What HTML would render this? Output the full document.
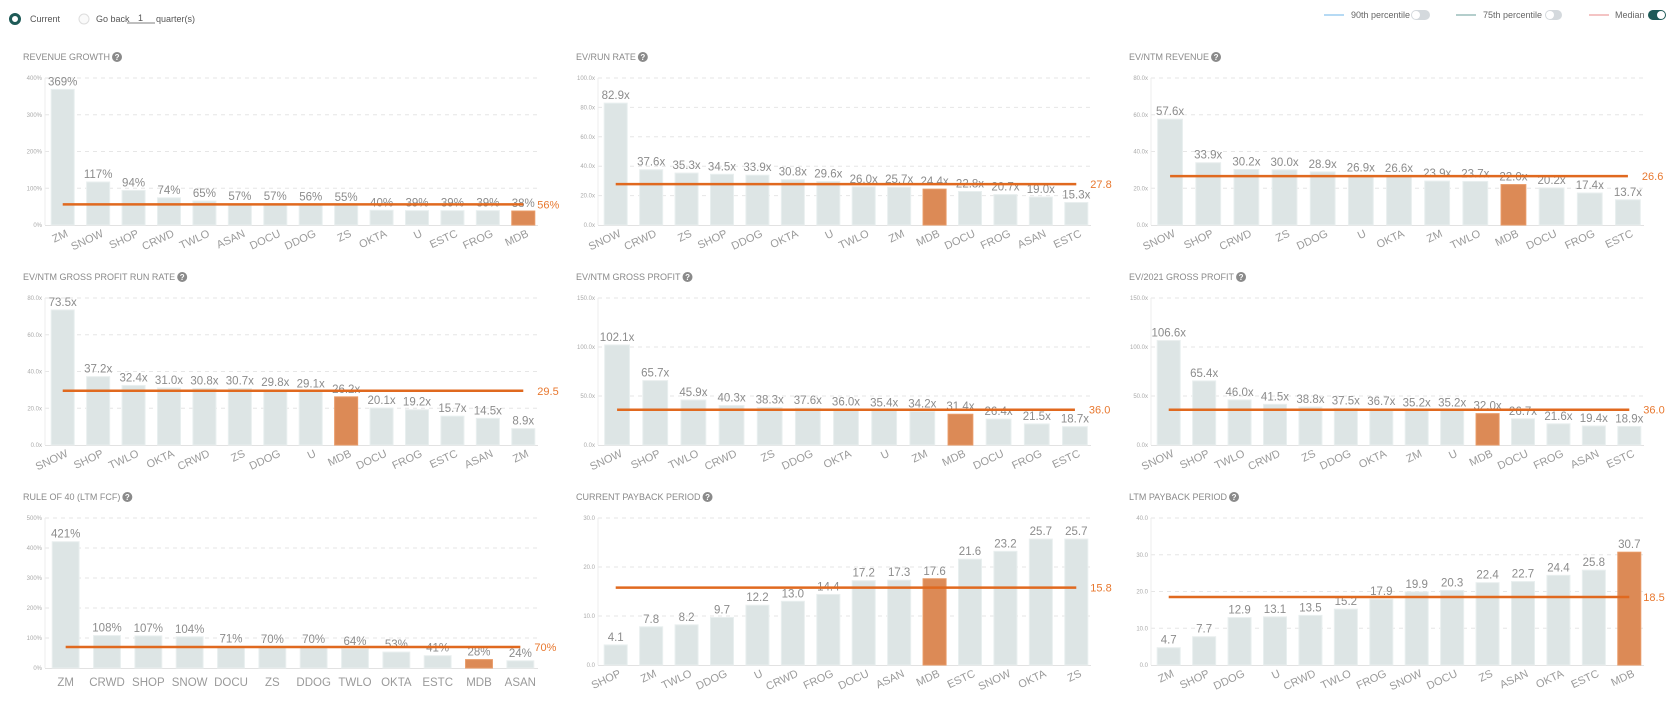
<!DOCTYPE html>
<html><head><meta charset="utf-8">
<style>
html,body{margin:0;padding:0;background:#fff;width:1671px;height:708px;overflow:hidden;font-family:"Liberation Sans",sans-serif;}
svg{display:block}
</style></head>
<body>
<svg id="root" width="1671" height="708" viewBox="0 0 1671 708" xmlns="http://www.w3.org/2000/svg">
  <g font-family="Liberation Sans, sans-serif" font-size="9" fill="#555">
    <g>
      <circle cx="15" cy="19" r="4.5" fill="#fff" stroke="#1e5a57" stroke-width="3"/>
      <text x="30" y="22">Current</text>
    </g>
    <g>
      <circle cx="84" cy="19" r="5" fill="#fafafa" stroke="#ddd" stroke-width="1"/>
      <text x="96" y="22">Go back</text>
    </g>
    <g>
      <line x1="127" y1="23" x2="155" y2="23" stroke="#555" stroke-width="0.8"/>
      <text x="138" y="21">1</text>
    </g>
    <text x="156" y="22">quarter(s)</text>
  </g>
  <g font-family="Liberation Sans, sans-serif" font-size="9" fill="#666">
    <g>
      <line x1="1324" y1="15" x2="1344" y2="15" stroke="#6cb4e8" stroke-width="1"/>
      <text x="1351" y="18">90th percentile</text>
    </g>
    <g>
      <rect x="1411" y="10" width="19" height="10" rx="5" fill="#d4d9dd"/>
      <circle cx="1416" cy="15" r="4" fill="#fff"/>
    </g>
    <g>
      <line x1="1456" y1="15" x2="1476" y2="15" stroke="#6a9c9a" stroke-width="1"/>
      <text x="1483" y="18">75th percentile</text>
    </g>
    <g>
      <rect x="1545" y="10" width="17" height="10" rx="5" fill="#d4d9dd"/>
      <circle cx="1550" cy="15" r="4" fill="#fff"/>
    </g>
    <g>
      <line x1="1589" y1="15" x2="1609" y2="15" stroke="#e88a8a" stroke-width="1"/>
      <text x="1615" y="18">Median</text>
    </g>
    <g>
      <rect x="1648" y="10" width="18" height="10" rx="5" fill="#1e5a57"/>
      <circle cx="1661" cy="15" r="4" fill="#fff"/>
    </g>
  </g>
  <g id="charts"></g>
</svg>
<script>
// ---- data ----
const revGrowthCats = ["ZM","SNOW","SHOP","CRWD","TWLO","ASAN","DOCU","DDOG","ZS","OKTA","U","ESTC","FROG","MDB"];
const revGrowthVals = [369,117,94,74,65,57,57,56,55,40,39,39,39,38];
const revGrowthTicks = [0,100,200,300,400];
const revGrowthMedian = 56;

const evRunRateCats = ["SNOW","CRWD","ZS","SHOP","DDOG","OKTA","U","TWLO","ZM","MDB","DOCU","FROG","ASAN","ESTC"];
const evRunRateVals = [82.9,37.6,35.3,34.5,33.9,30.8,29.6,26.0,25.7,24.4,22.8,20.7,19.0,15.3];
const evRunRateTicks = [0,20,40,60,80,100];
const evRunRateMedian = 27.8;

const evNtmRevCats = ["SNOW","SHOP","CRWD","ZS","DDOG","U","OKTA","ZM","TWLO","MDB","DOCU","FROG","ESTC"];
const evNtmRevVals = [57.6,33.9,30.2,30.0,28.9,26.9,26.6,23.9,23.7,22.0,20.2,17.4,13.7];
const evNtmRevTicks = [0,20,40,60,80];
const evNtmRevMedian = 26.6;

const evGpRunCats = ["SNOW","SHOP","TWLO","OKTA","CRWD","ZS","DDOG","U","MDB","DOCU","FROG","ESTC","ASAN","ZM"];
const evGpRunVals = [73.5,37.2,32.4,31.0,30.8,30.7,29.8,29.1,26.2,20.1,19.2,15.7,14.5,8.9];
const evGpRunTicks = [0,20,40,60,80];
const evGpRunMedian = 29.5;

const evNtmGpCats = ["SNOW","SHOP","TWLO","CRWD","ZS","DDOG","OKTA","U","ZM","MDB","DOCU","FROG","ESTC"];
const evNtmGpVals = [102.1,65.7,45.9,40.3,38.3,37.6,36.0,35.4,34.2,31.4,26.4,21.5,18.7];
const evNtmGpTicks = [0,50,100,150];
const evNtmGpMedian = 36.0;

const ev2021GpCats = ["SNOW","SHOP","TWLO","CRWD","ZS","DDOG","OKTA","ZM","U","MDB","DOCU","FROG","ASAN","ESTC"];
const ev2021GpVals = [106.6,65.4,46.0,41.5,38.8,37.5,36.7,35.2,35.2,32.0,26.7,21.6,19.4,18.9];
const ev2021GpTicks = [0,50,100,150];
const ev2021GpMedian = 36.0;

const rule40Cats = ["ZM","CRWD","SHOP","SNOW","DOCU","ZS","DDOG","TWLO","OKTA","ESTC","MDB","ASAN"];
const rule40Vals = [421,108,107,104,71,70,70,64,53,41,28,24];
const rule40Ticks = [0,100,200,300,400,500];
const rule40Median = 70;

const curPaybackCats = ["SHOP","ZM","TWLO","DDOG","U","CRWD","FROG","DOCU","ASAN","MDB","ESTC","SNOW","OKTA","ZS"];
const curPaybackVals = [4.1,7.8,8.2,9.7,12.2,13.0,14.4,17.2,17.3,17.6,21.6,23.2,25.7,25.7];
const curPaybackTicks = [0,10,20,30];
const curPaybackMedian = 15.8;

const ltmPaybackCats = ["ZM","SHOP","DDOG","U","CRWD","TWLO","FROG","SNOW","DOCU","ZS","ASAN","OKTA","ESTC","MDB"];
const ltmPaybackVals = [4.7,7.7,12.9,13.1,13.5,15.2,17.9,19.9,20.3,22.4,22.7,24.4,25.8,30.7];
const ltmPaybackTicks = [0,10,20,30,40];
const ltmPaybackMedian = 18.5;

const highlightCat = "MDB";

// ---- layout ----
const NS = "http://www.w3.org/2000/svg";
const COLS = [45, 598, 1151];
const ROWS = [0, 220, 440];
const PW = 496;

const panels = [
  {title:"REVENUE GROWTH", cats:revGrowthCats, vals:revGrowthVals, ticks:revGrowthTicks, med:revGrowthMedian, fmt:"pct", c:0, r:0, rot:true},
  {title:"EV/RUN RATE", cats:evRunRateCats, vals:evRunRateVals, ticks:evRunRateTicks, med:evRunRateMedian, fmt:"x", c:1, r:0, rot:true},
  {title:"EV/NTM REVENUE", cats:evNtmRevCats, vals:evNtmRevVals, ticks:evNtmRevTicks, med:evNtmRevMedian, fmt:"x", c:2, r:0, rot:true},
  {title:"EV/NTM GROSS PROFIT RUN RATE", cats:evGpRunCats, vals:evGpRunVals, ticks:evGpRunTicks, med:evGpRunMedian, fmt:"x", c:0, r:1, rot:true},
  {title:"EV/NTM GROSS PROFIT", cats:evNtmGpCats, vals:evNtmGpVals, ticks:evNtmGpTicks, med:evNtmGpMedian, fmt:"x", c:1, r:1, rot:true},
  {title:"EV/2021 GROSS PROFIT", cats:ev2021GpCats, vals:ev2021GpVals, ticks:ev2021GpTicks, med:ev2021GpMedian, fmt:"x", c:2, r:1, rot:true},
  {title:"RULE OF 40 (LTM FCF)", cats:rule40Cats, vals:rule40Vals, ticks:rule40Ticks, med:rule40Median, fmt:"pct", c:0, r:2, rot:false},
  {title:"CURRENT PAYBACK PERIOD", cats:curPaybackCats, vals:curPaybackVals, ticks:curPaybackTicks, med:curPaybackMedian, fmt:"n", c:1, r:2, rot:true},
  {title:"LTM PAYBACK PERIOD", cats:ltmPaybackCats, vals:ltmPaybackVals, ticks:ltmPaybackTicks, med:ltmPaybackMedian, fmt:"n", c:2, r:2, rot:true}
];

function mk(tag, attrs, parent){
  const e = document.createElementNS(NS, tag);
  for (const k in attrs) e.setAttribute(k, attrs[k]);
  parent.appendChild(e);
  return e;
}
function slug(s){return s.toLowerCase().replace(/[^a-z0-9]+/g,'-').replace(/^-|-$/g,'');}
function fmtVal(v,f){ if(f==="pct") return Math.round(v)+"%"; if(f==="x") return v.toFixed(1)+"x"; return v.toFixed(1);}
function fmtTick(v,f){ if(f==="pct") return v+"%"; if(f==="x") return v.toFixed(1)+"x"; return v.toFixed(1);}

const root = document.getElementById('charts');
panels.forEach(p=>{
  const left = COLS[p.c];
  const top = 78 + ROWS[p.r];
  const bottom = (p.rot ? 225 : 228) + ROWS[p.r] + (p.r===2 && p.rot ? 0 : 0);
  const maxV = p.ticks[p.ticks.length-1];
  const yScale = v => bottom - (v/maxV)*(bottom-top);
  const n = p.cats.length;
  const band = PW / n;
  const bw = band * 0.65;
  const xCenter = i => left + band*(i+0.5);
  const name = slug(p.title);

  const g = mk('g', {}, root);
  
  

  const t = mk('text', {x:left-22, y:top-18, 'font-size':'9', fill:'#8a8a8a', 'font-family':'Liberation Sans, sans-serif'}, g);
  t.textContent = p.title;
  
  
  const tw = t.getComputedTextLength ? t.getComputedTextLength() : p.title.length*6;
  const hg = mk('g', {}, g);
  
  
  mk('circle', {cx:left-22+tw+7, cy:top-21, r:5, fill:'#8a8a8a'}, hg);
  const q = mk('text', {x:left-22+tw+7, y:top-18, 'font-size':'8', 'font-weight':'bold', fill:'#fff', 'text-anchor':'middle'}, hg);
  q.textContent = '?';

  // grid + ticks
  p.ticks.forEach(tv=>{
    const y = yScale(tv);
    if (tv>0){
      const gl = mk('line', {x1:left, x2:left+PW-3, y1:y, y2:y, stroke:'#e6e6e6', 'stroke-width':1, 'stroke-dasharray':'4,4'}, g);
      
      
    }
    const tl = mk('text', {x:left-3, y:y+2, 'font-size':'6', fill:'#aaa', 'text-anchor':'end'}, g);
    tl.textContent = fmtTick(tv, p.fmt);
    
    
  });
  const ax = mk('line', {x1:left, x2:left, y1:top, y2:bottom, stroke:'#ececec', 'stroke-width':1}, g);
  
  
  const bl = mk('line', {x1:left, x2:left+PW-3, y1:bottom+0.5, y2:bottom+0.5, stroke:'#e2e2e2', 'stroke-width':1}, g);
  
  

  // bars
  p.cats.forEach((c,i)=>{
    const v = p.vals[i];
    const y = yScale(v);
    const cx = xCenter(i);
    const hl = c===highlightCat;
    const b = mk('rect', {x:cx-bw/2, y:y, width:bw, height:bottom-y, fill: hl?'#dc8a56':'#dde5e5', stroke: hl?'#e99a66':'#e9efef', 'stroke-width':1}, g);
    
    
    const vl = mk('text', {x:cx, y:y-4, 'font-size':'11.5', fill:'#8c8c8c', 'text-anchor':'middle'}, g);
    vl.textContent = fmtVal(v, p.fmt);
    
    
    let xl;
    if (p.rot){
      xl = mk('text', {x:cx+6, y:bottom+11, 'font-size':'11', fill:'#9a9a9a', 'text-anchor':'end', transform:`rotate(-25 ${cx+6} ${bottom+11})`}, g);
    } else {
      xl = mk('text', {x:cx, y:bottom+18, 'font-size':'11.5', fill:'#9a9a9a', 'text-anchor':'middle'}, g);
    }
    xl.textContent = c;
    
    
  });

  // median
  const my = yScale(p.med);
  const ml = mk('line', {x1:xCenter(0), x2:xCenter(n-1), y1:my, y2:my, stroke:'#e0691f', 'stroke-width':2.5}, g);
  
  
  const mt = mk('text', {x:xCenter(n-1)+14, y:my+4, 'font-size':'11', fill:'#e8782f'}, g);
  mt.textContent = p.fmt==="pct" ? Math.round(p.med)+"%" : p.med.toFixed(1);
  
  
});
</script>
</body></html>
